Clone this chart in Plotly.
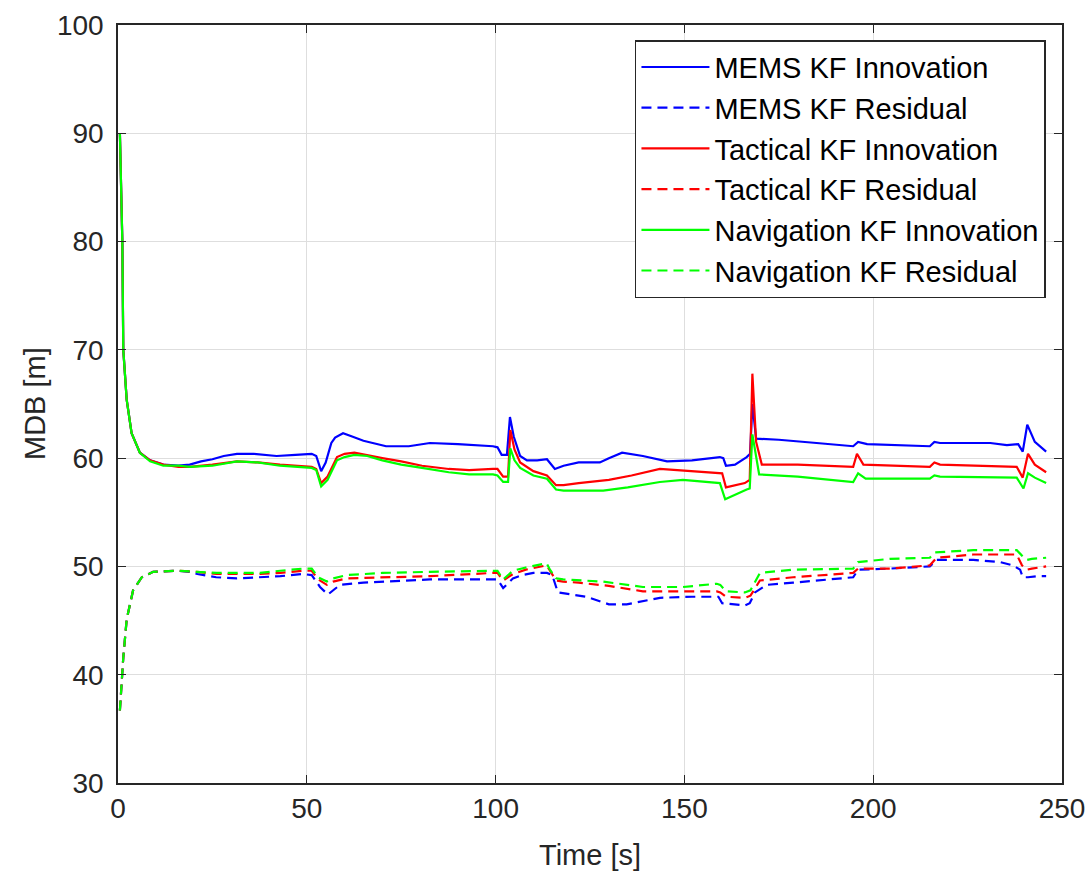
import plotly.graph_objects as go

# ---------------- data ----------------
mems_inn_t = [0.5, 1.15, 1.4, 2.3, 3.6, 5.8, 8.5, 12, 16, 19, 22, 25, 28, 31.5, 36, 42, 47, 51.3, 52.5,
              53.8, 55, 56.5, 57.5, 59.6, 62, 65, 71, 77, 82.6, 90, 99.3, 100.5, 101.6, 103, 103.8, 104.8,
              106.5, 108.3, 111, 113.6, 115.7, 118, 122, 127.6, 130, 133.5, 139, 145.4, 152, 159.4, 160.3,
              161, 163.4, 166.5, 167.4, 168, 169, 175, 185, 194.7, 196, 198.4, 215, 216.2, 217.7, 231,
              235.4, 238.4, 239.6, 240.8, 242.8, 245.8]
mems_inn_v = [90, 80, 70, 65.4, 62.3, 60.5, 59.8, 59.4, 59.3, 59.4, 59.7, 59.9, 60.2, 60.4, 60.4, 60.2, 60.3,
              60.4, 60.2, 58.8, 59.6, 61.4, 61.9, 62.3, 62.0, 61.6, 61.1, 61.1, 61.4, 61.3, 61.1, 61.0, 60.3,
              60.3, 63.8, 62.0, 60.2, 59.8, 59.8, 59.9, 59.0, 59.3, 59.6, 59.6, 60.0, 60.5, 60.2, 59.7, 59.8,
              60.1, 60.0, 59.3, 59.4, 60.1, 60.4, 65.0, 61.8, 61.7, 61.4, 61.1, 61.5, 61.3, 61.1, 61.5, 61.4,
              61.4, 61.2, 61.3, 60.6, 63.1, 61.5, 60.6]

mems_res_t = [0.5, 1.4, 2.3, 4, 6.3, 9.3, 15.6, 19, 21, 26, 31.5, 37.6, 43, 49, 51.3, 53.5, 55.6, 57, 58.8,
              65, 82.6, 99.3, 100.5, 102, 104.6, 107, 110, 113.6, 115, 116.5, 122.3, 124, 130, 134.7, 143.5,
              152, 159, 160, 166, 167.3, 168.7, 171.8, 178.8, 194.7, 196, 204.4, 215, 216.8, 226.5, 233.6,
              237, 238.9, 239.6, 241, 243.6, 245.8]
mems_res_v = [36.7, 41.6, 45.1, 47.8, 49.0, 49.5, 49.6, 49.5, 49.3, 49.0, 48.9, 49.0, 49.1, 49.3, 49.2, 48.1,
              47.4, 47.8, 48.3, 48.5, 48.8, 48.8, 48.8, 48.0, 48.9, 49.2, 49.4, 49.4, 49.2, 47.6, 47.3, 47.2,
              46.5, 46.5, 47.1, 47.2, 47.2, 46.6, 46.4, 46.6, 47.6, 48.3, 48.5, 49.0, 49.7, 49.8, 50.0, 50.6,
              50.6, 50.4, 50.1, 49.7, 49.0, 49.0, 49.1, 49.1]

tact_inn_t = [0.5, 1.15, 1.4, 2.3, 3.6, 5.8, 8.5, 12, 16, 19, 25, 31.5, 37, 42.9, 51.3, 52.5, 53.8, 55.5, 58,
              60, 62.6, 66, 70, 75, 80.5, 87.6, 93, 99.3, 100.5, 102, 103.3, 103.9, 105, 106.5, 110, 113.6,
              116, 118, 122, 130, 136, 143.5, 152, 160, 161, 166, 167.3, 168, 169, 170.5, 180, 194.7, 195.7,
              197.4, 215, 216.2, 217.7, 238, 239.6, 241, 242.8, 245.8]
tact_inn_v = [90, 80, 70, 65.4, 62.3, 60.5, 59.8, 59.4, 59.2, 59.2, 59.4, 59.7, 59.6, 59.4, 59.2, 59.0, 57.7,
              58.3, 60.1, 60.4, 60.5, 60.3, 60.0, 59.7, 59.3, 59.0, 58.9, 59.0, 59.0, 58.3, 58.3, 62.6, 60.8,
              59.6, 58.8, 58.4, 57.5, 57.5, 57.7, 58.0, 58.4, 59.0, 58.8, 58.6, 57.3, 57.7, 58.0, 67.8, 61.5,
              59.4, 59.4, 59.2, 60.4, 59.4, 59.2, 59.6, 59.4, 59.2, 58.2, 60.4, 59.4, 58.7]

tact_res_t = [0.5, 1.4, 2.3, 4, 6.3, 9.3, 15.6, 21, 26, 31.5, 37.6, 43, 49, 51.3, 53, 55.3, 57, 60.6, 70, 82.6,
              99.3, 100.5, 102, 104.6, 108, 111.8, 113.5, 114.4, 116, 117.9, 122, 130, 139, 149.6, 158.6,
              159.5, 161, 166, 167.5, 170, 178.8, 194.7, 196, 204.4, 215, 216.8, 226.5, 238, 239.4, 240.7,
              242, 245.8]
tact_res_v = [36.7, 41.6, 45.1, 47.8, 49.0, 49.5, 49.6, 49.5, 49.3, 49.3, 49.3, 49.4, 49.6, 49.6, 48.8, 48.3,
              48.6, 48.9, 49.0, 49.1, 49.4, 49.4, 48.7, 49.3, 49.7, 50.0, 50.1, 49.6, 48.7, 48.6, 48.5, 48.2,
              47.7, 47.7, 47.7, 47.6, 47.2, 47.1, 47.3, 48.7, 49.0, 49.4, 49.8, 49.8, 50.1, 50.8, 51.1, 51.1,
              50.1, 49.7, 49.8, 50.0]

nav_inn_t = [0.5, 1.15, 1.4, 2.3, 3.6, 5.8, 8.5, 12, 16, 19, 25, 31.5, 37, 42.9, 51.3, 52.5, 53.8, 55.5, 58,
             60, 62.6, 66, 70, 75, 80.5, 87.6, 93, 99.3, 100.5, 102, 103.3, 103.9, 105, 106.5, 110, 113.6,
             116, 118, 128.5, 135, 143.5, 149.6, 159.4, 160.8, 166.5, 167.3, 168, 169.8, 180, 194.7, 196,
             198, 215, 216.2, 217.7, 238, 239.8, 241, 242.8, 245.8]
nav_inn_v = [90, 80, 70, 65.4, 62.3, 60.5, 59.7, 59.3, 59.3, 59.2, 59.3, 59.7, 59.6, 59.3, 59.1, 58.9, 57.4,
             58.0, 59.8, 60.1, 60.3, 60.2, 59.8, 59.4, 59.1, 58.7, 58.5, 58.5, 58.4, 57.8, 57.8, 60.9, 59.8,
             59.1, 58.4, 58.1, 57.1, 57.0, 57.0, 57.3, 57.8, 58.0, 57.7, 56.2, 57.1, 57.2, 62.2, 58.5, 58.3,
             57.8, 58.6, 58.1, 58.1, 58.4, 58.3, 58.2, 57.2, 58.6, 58.2, 57.7]

nav_res_t = [0.5, 1.4, 2.3, 4, 6.3, 9.3, 15.6, 21, 26, 31.5, 37.6, 43, 49, 51.3, 53, 55.3, 57, 60.6, 70, 82.6,
             99.3, 100.5, 102, 104.6, 108, 111.8, 113.5, 114.4, 116, 117.9, 122, 128.5, 139, 149.6, 158.6,
             159.5, 161, 166, 167.5, 170, 178.8, 194.7, 196, 204.4, 215, 216.4, 226.5, 238, 239.4, 240.7,
             242, 245.8]
nav_res_v = [36.7, 41.6, 45.1, 47.8, 49.0, 49.5, 49.6, 49.5, 49.4, 49.4, 49.4, 49.6, 49.8, 49.8, 49.0, 48.6,
             48.9, 49.2, 49.4, 49.5, 49.6, 49.6, 48.8, 49.6, 49.9, 50.2, 50.3, 49.7, 48.9, 48.8, 48.7, 48.6,
             48.1, 48.1, 48.4, 48.3, 47.7, 47.6, 47.8, 49.4, 49.7, 49.8, 50.4, 50.7, 50.8, 51.3, 51.5, 51.5,
             51.0, 50.6, 50.7, 50.8]

series_names = ["MEMS KF Innovation", "MEMS KF Residual", "Tactical KF Innovation",
                "Tactical KF Residual", "Navigation KF Innovation", "Navigation KF Residual"]
x_ticks = [0, 50, 100, 150, 200, 250]
y_ticks = [30, 40, 50, 60, 70, 80, 90, 100]
x_title = "Time [s]"
y_title = "MDB [m]"

# ---------------- figure ----------------
series = [
    (mems_inn_t, mems_inn_v, "#0000ff", "solid"),
    (mems_res_t, mems_res_v, "#0000ff", "10px,6px"),
    (tact_inn_t, tact_inn_v, "#ff0000", "solid"),
    (tact_res_t, tact_res_v, "#ff0000", "10px,6px"),
    (nav_inn_t, nav_inn_v, "#00ff00", "solid"),
    (nav_res_t, nav_res_v, "#00ff00", "10px,6px"),
]

fig = go.Figure()
for name, (t, v, c, d) in zip(series_names, series):
    fig.add_trace(go.Scatter(x=t, y=v, mode="lines", name=name,
                             line=dict(color=c, width=2.2, dash=d)))

FONT = "Liberation Sans, Arial, sans-serif"
axis_common = dict(
    showline=True, linecolor="#262626", linewidth=1.5, mirror="ticks",
    ticks="inside", ticklen=8, tickwidth=1.2, tickcolor="#262626",
    showgrid=True, gridcolor="#dedede", gridwidth=1, zeroline=False,
    automargin=False,
    tickfont=dict(family=FONT, size=28, color="#262626"),
)

fig.update_layout(
    width=1090, height=871,
    margin=dict(l=118, r=28, t=25, b=88),
    paper_bgcolor="white", plot_bgcolor="white",
    showlegend=True,
    legend=dict(x=0.983, xanchor="right", y=0.98, yanchor="top",
                bgcolor="white", bordercolor="#262626", borderwidth=1.5,
                font=dict(family=FONT, size=29, color="#000000"),
                tracegroupgap=0, itemwidth=68),
    xaxis=dict(range=[0, 250], tickvals=x_ticks, **axis_common),
    yaxis=dict(range=[30, 100], tickvals=y_ticks, ticklabelstandoff=7, **axis_common),
    annotations=[
        dict(text=x_title, xref="paper", yref="paper", x=0.5, y=0, xanchor="center",
             yanchor="middle", yshift=-72, showarrow=False,
             font=dict(family=FONT, size=29, color="#262626")),
        dict(text=y_title, xref="paper", yref="paper", x=0, y=0.5, xanchor="center",
             yanchor="middle", xshift=-83, textangle=-90, showarrow=False,
             font=dict(family=FONT, size=29, color="#262626")),
    ],
)

fig.write_html("out.html")
